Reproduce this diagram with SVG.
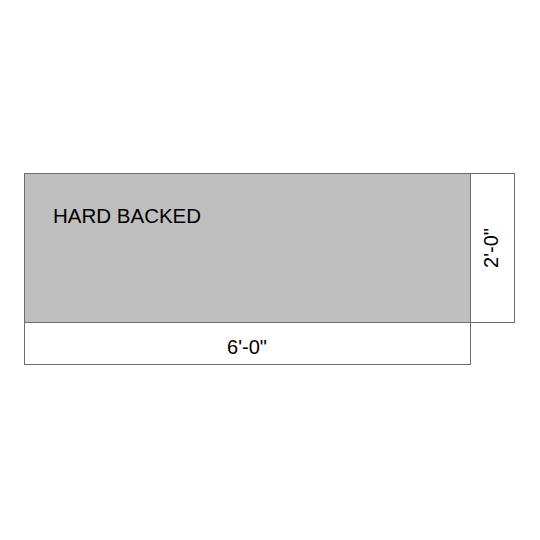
<svg xmlns="http://www.w3.org/2000/svg" width="540" height="540" viewBox="0 0 540 540">
<style>
.ln{fill:none;stroke:#6b6b6b;stroke-width:1}
.t{font-family:"Liberation Sans",Arial,sans-serif;fill:#000}
</style>
<rect width="540" height="540" fill="#fff"/>
<g id="panel">
<rect x="24.5" y="173.5" width="446" height="149" fill="#bfbfbf" stroke="#6b6b6b" stroke-width="1"/>
<text class="t" x="53" y="223" font-size="20.5">HARD BACKED</text>
</g>
<g id="dim-width">
<rect class="ln" x="24.5" y="322.5" width="446" height="42"/>
<text class="t" x="247" y="354" font-size="20" text-anchor="middle">6'-0"</text>
</g>
<g id="dim-height">
<rect class="ln" x="470.5" y="173.5" width="44" height="149"/>
<text class="t" font-size="20" text-anchor="middle" transform="translate(491,248) rotate(-90)" y="7">2'-0"</text>
</g>
</svg>
